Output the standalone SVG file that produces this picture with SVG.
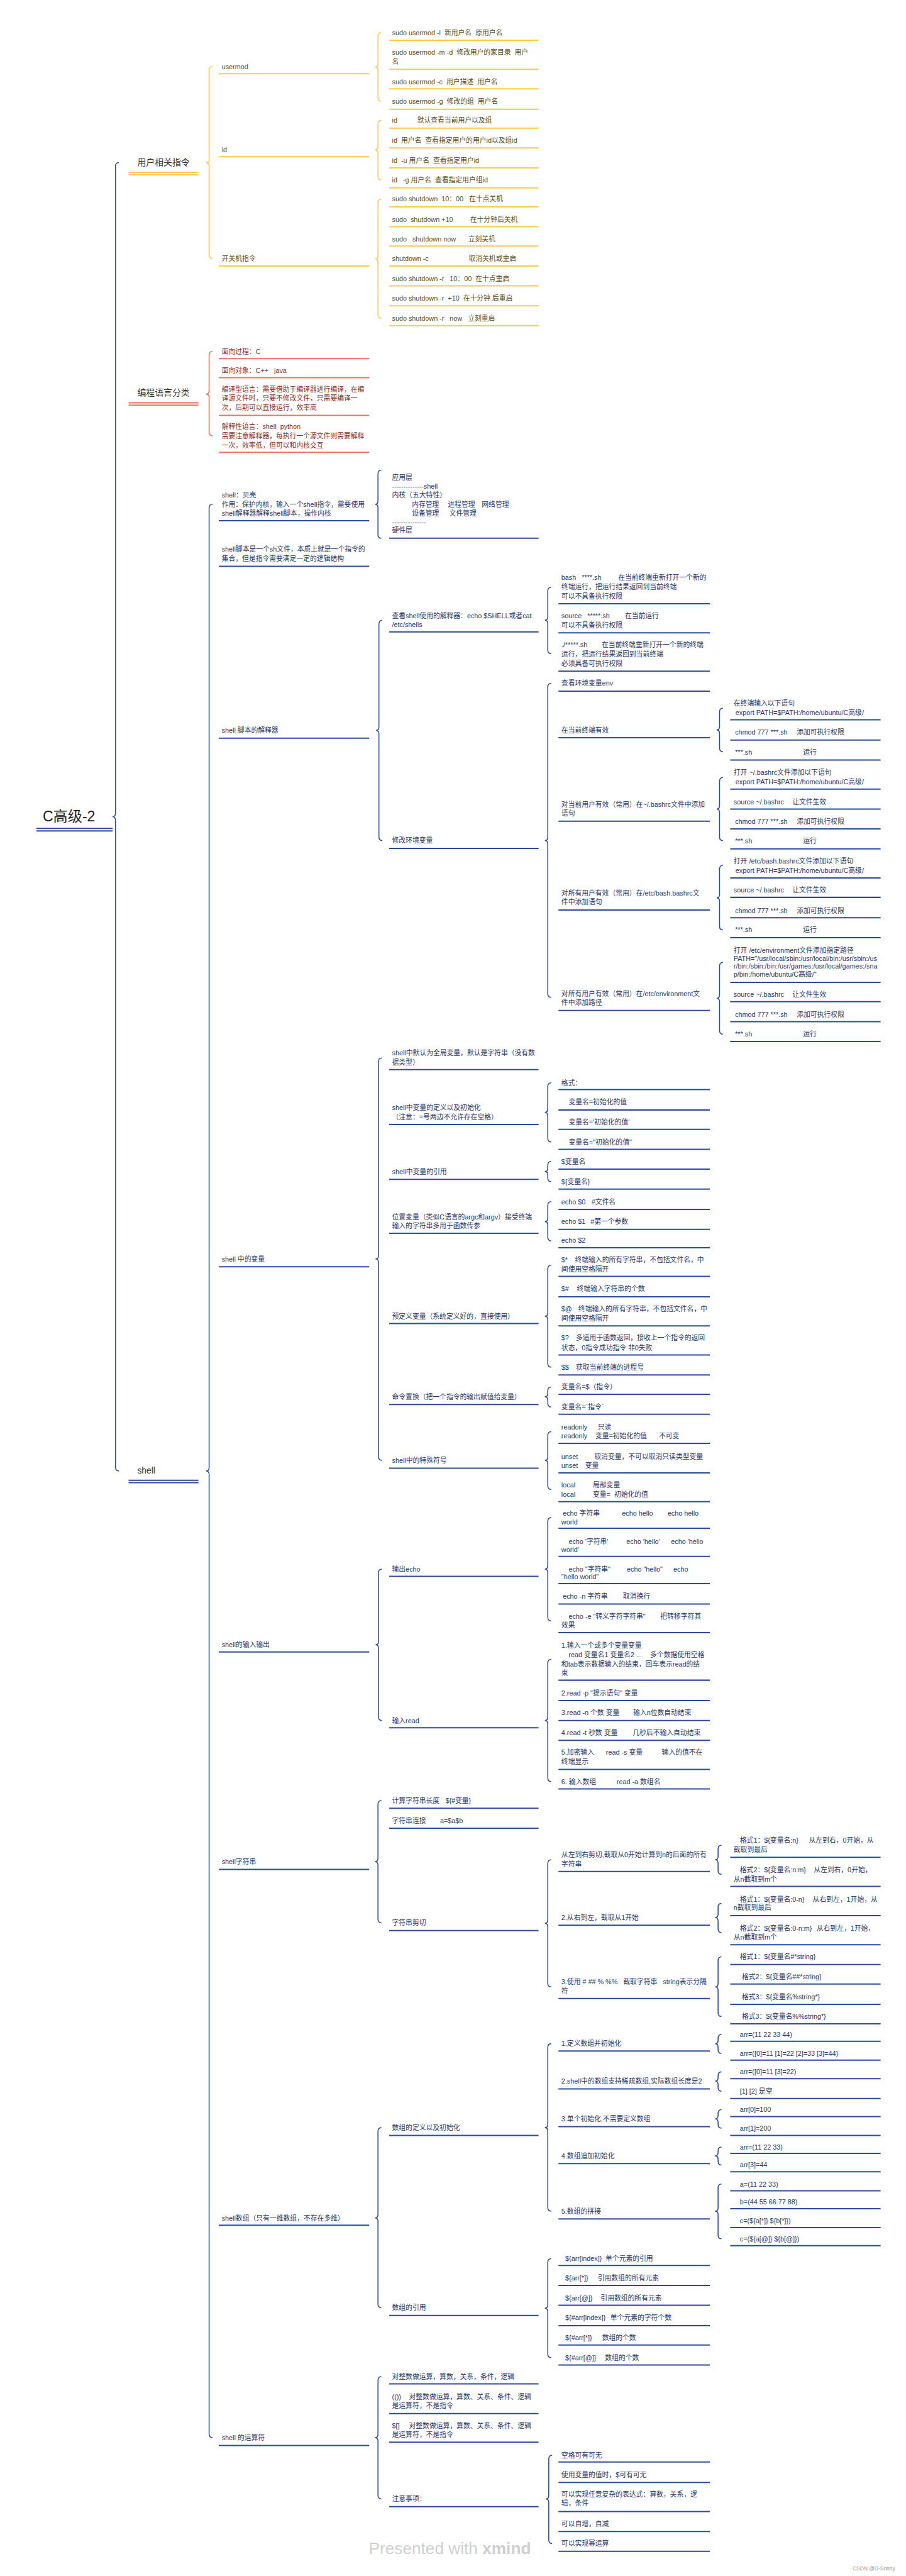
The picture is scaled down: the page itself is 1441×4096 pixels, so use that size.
<svg xmlns="http://www.w3.org/2000/svg" width="1441" height="4096" viewBox="0 0 1441 4096">
<style>
text{font-family:"Liberation Sans","Noto Sans CJK SC",sans-serif;font-size:14px;white-space:pre}
.ty{fill:#5b4b17}.tr{fill:#8b2e1f}.tb{fill:#26356a}
.l1{font-size:18px;fill:#333}
.root{font-size:30px;fill:#222}
.uy,.ur,.ub{fill:none;stroke-width:2.6}
.uy{stroke:#FFC94A}.ur{stroke:#E9735F}.ub{stroke:#2E4B9A}
.by,.br,.bb{fill:none;stroke-width:2}
.by{stroke:#FFC94A}.br{stroke:#E9735F}.bb{stroke:#2E4B9A}
.wm{font-size:34px;fill:#cfcfcf}
.cs{font-size:11px;fill:#999}
</style>
<rect width="1441" height="4096" fill="#fff"/>
<g transform="scale(0.7717)">
<g id="connectors">
<path class="bb" d="M245,335 Q238,335 238,343 V1676 Q238,1683 232,1683 Q238,1683 238,1690 V3023 Q238,3031 245,3031"/>
<path class="by" d="M438,137 Q431,137 431,145 V328 Q431,335 425,335 Q431,335 431,342 V525 Q431,533 438,533"/>
<path class="by" d="M786,67 Q779,67 779,75 V131 Q779,138 773,138 Q779,138 779,145 V201 Q779,209 786,209"/>
<path class="by" d="M786,248 Q779,248 779,256 V302 Q779,309 773,309 Q779,309 779,316 V363 Q779,371 786,371"/>
<path class="by" d="M786,410 Q779,410 779,418 V526 Q779,533 773,533 Q779,533 779,540 V648 Q779,656 786,656"/>
<path class="br" d="M438,724 Q431,724 431,732 V805 Q431,812 425,812 Q431,812 431,819 V890 Q431,898 438,898"/>
<path class="bb" d="M438,1039 Q431,1039 431,1047 V3024 Q431,3031 425,3031 Q431,3031 431,3038 V5015 Q431,5023 438,5023"/>
<path class="bb" d="M786,969 Q779,969 779,977 V1032 Q779,1039 773,1039 Q779,1039 779,1046 V1101 Q779,1109 786,1109"/>
<path class="bb" d="M788,1278 Q781,1278 781,1286 V1498 Q781,1505 775,1505 Q781,1505 781,1512 V1724 Q781,1732 788,1732"/>
<path class="bb" d="M1136,1210 Q1129,1210 1129,1218 V1271 Q1129,1278 1123,1278 Q1129,1278 1129,1285 V1339 Q1129,1347 1136,1347"/>
<path class="bb" d="M1136,1408 Q1129,1408 1129,1416 V1725 Q1129,1732 1123,1732 Q1129,1732 1129,1739 V2047 Q1129,2055 1136,2055"/>
<path class="bb" d="M1490,1459 Q1483,1459 1483,1467 V1497 Q1483,1504 1477,1504 Q1483,1504 1483,1511 V1541 Q1483,1549 1490,1549"/>
<path class="bb" d="M1490,1602 Q1483,1602 1483,1610 V1660 Q1483,1667 1477,1667 Q1483,1667 1483,1674 V1724 Q1483,1732 1490,1732"/>
<path class="bb" d="M1490,1783 Q1483,1783 1483,1791 V1843 Q1483,1850 1477,1850 Q1483,1850 1483,1857 V1908 Q1483,1916 1490,1916"/>
<path class="bb" d="M1490,1983 Q1483,1983 1483,1991 V2050 Q1483,2057 1477,2057 Q1483,2057 1483,2064 V2123 Q1483,2131 1490,2131"/>
<path class="bb" d="M787,2180 Q780,2180 780,2188 V2587 Q780,2594 774,2594 Q780,2594 780,2601 V3001 Q780,3009 787,3009"/>
<path class="bb" d="M1136,2231 Q1129,2231 1129,2239 V2285 Q1129,2292 1123,2292 Q1129,2292 1129,2299 V2345 Q1129,2353 1136,2353"/>
<path class="bb" d="M1136,2393 Q1129,2393 1129,2401 V2407 Q1129,2414 1123,2414 Q1129,2414 1129,2421 V2427 Q1129,2435 1136,2435"/>
<path class="bb" d="M1136,2476 Q1129,2476 1129,2484 V2510 Q1129,2517 1123,2517 Q1129,2517 1129,2524 V2549 Q1129,2557 1136,2557"/>
<path class="bb" d="M1136,2607 Q1129,2607 1129,2615 V2705 Q1129,2712 1123,2712 Q1129,2712 1129,2719 V2809 Q1129,2817 1136,2817"/>
<path class="bb" d="M1136,2858 Q1129,2858 1129,2866 V2871 Q1129,2878 1123,2878 Q1129,2878 1129,2885 V2891 Q1129,2899 1136,2899"/>
<path class="bb" d="M1136,2950 Q1129,2950 1129,2958 V3002 Q1129,3009 1123,3009 Q1129,3009 1129,3016 V3061 Q1129,3069 1136,3069"/>
<path class="bb" d="M787,3233 Q780,3233 780,3241 V3382 Q780,3389 774,3389 Q780,3389 780,3396 V3537 Q780,3545 787,3545"/>
<path class="bb" d="M1136,3127 Q1129,3127 1129,3135 V3226 Q1129,3233 1123,3233 Q1129,3233 1129,3240 V3332 Q1129,3340 1136,3340"/>
<path class="bb" d="M1136,3419 Q1129,3419 1129,3427 V3538 Q1129,3545 1123,3545 Q1129,3545 1129,3552 V3663 Q1129,3671 1136,3671"/>
<path class="bb" d="M786,3710 Q779,3710 779,3718 V3829 Q779,3836 773,3836 Q779,3836 779,3843 V3954 Q779,3962 786,3962"/>
<path class="bb" d="M1136,3832 Q1129,3832 1129,3840 V3956 Q1129,3963 1123,3963 Q1129,3963 1129,3970 V4086 Q1129,4094 1136,4094"/>
<path class="bb" d="M1487,3802 Q1480,3802 1480,3810 V3825 Q1480,3832 1474,3832 Q1480,3832 1480,3839 V3854 Q1480,3862 1487,3862"/>
<path class="bb" d="M1487,3922 Q1480,3922 1480,3930 V3944 Q1480,3951 1474,3951 Q1480,3951 1480,3958 V3974 Q1480,3982 1487,3982"/>
<path class="bb" d="M1487,4032 Q1480,4032 1480,4040 V4087 Q1480,4094 1474,4094 Q1480,4094 1480,4101 V4147 Q1480,4155 1487,4155"/>
<path class="bb" d="M786,4384 Q779,4384 779,4392 V4563 Q779,4570 773,4570 Q779,4570 779,4577 V4747 Q779,4755 786,4755"/>
<path class="bb" d="M1136,4211 Q1129,4211 1129,4219 V4377 Q1129,4384 1123,4384 Q1129,4384 1129,4391 V4548 Q1129,4556 1136,4556"/>
<path class="bb" d="M1487,4192 Q1480,4192 1480,4200 V4204 Q1480,4211 1474,4211 Q1480,4211 1480,4218 V4223 Q1480,4231 1487,4231"/>
<path class="bb" d="M1487,4269 Q1480,4269 1480,4277 V4281 Q1480,4288 1474,4288 Q1480,4288 1480,4295 V4301 Q1480,4309 1487,4309"/>
<path class="bb" d="M1487,4347 Q1480,4347 1480,4355 V4359 Q1480,4366 1474,4366 Q1480,4366 1480,4373 V4377 Q1480,4385 1487,4385"/>
<path class="bb" d="M1487,4424 Q1480,4424 1480,4432 V4435 Q1480,4442 1474,4442 Q1480,4442 1480,4449 V4453 Q1480,4461 1487,4461"/>
<path class="bb" d="M1487,4500 Q1480,4500 1480,4508 V4549 Q1480,4556 1474,4556 Q1480,4556 1480,4563 V4605 Q1480,4613 1487,4613"/>
<path class="bb" d="M1136,4654 Q1129,4654 1129,4662 V4749 Q1129,4756 1123,4756 Q1129,4756 1129,4763 V4850 Q1129,4858 1136,4858"/>
<path class="bb" d="M786,4897 Q779,4897 779,4905 V5016 Q779,5023 773,5023 Q779,5023 779,5030 V5141 Q779,5149 786,5149"/>
<path class="bb" d="M1138,5059 Q1131,5059 1131,5067 V5142 Q1131,5149 1125,5149 Q1131,5149 1131,5156 V5233 Q1131,5241 1138,5241"/>
</g>

<g id="root"><text class="root" x="88" y="1692">C高级-2</text><path class="ub" d="M75 1707H232M75 1712H232"/></g>

<g id="n-user"><text class="l1" x="283" y="341">用户相关指令</text><path class="uy" d="M265 355H409M265 360H409"/></g>
<g id="n-usermod"><text class="ty" x="457" y="142">usermod</text><path class="uy" d="M451 152H761"/></g>
<g id="n-u1"><text class="ty" x="808" y="72">sudo usermod -l  新用户名  原用户名</text><path class="uy" d="M802 83H1110"/></g>
<g id="n-u2"><text class="ty" x="808" y="113">sudo usermod -m -d  修改用户的家目录  用户<tspan x="808" y="132">名</tspan></text><path class="uy" d="M802 143H1110"/></g>
<g id="n-u3"><text class="ty" x="808" y="173">sudo usermod -c  用户描述  用户名</text><path class="uy" d="M802 183H1110"/></g>
<g id="n-u4"><text class="ty" x="808" y="214">sudo usermod -g  修改的组  用户名</text><path class="uy" d="M802 225H1110"/></g>
<g id="n-id"><text class="ty" x="457" y="314">id</text><path class="uy" d="M451 323H761"/></g>
<g id="n-i1"><text class="ty" x="808" y="253">id<tspan x="860">默认查看当前用户以及组</tspan></text><path class="uy" d="M802 264H1110"/></g>
<g id="n-i2"><text class="ty" x="808" y="294">id  用户名  查看指定用户的用户id以及组id</text><path class="uy" d="M802 305H1110"/></g>
<g id="n-i3"><text class="ty" x="808" y="335">id  -u 用户名  查看指定用户id</text><path class="uy" d="M802 346H1110"/></g>
<g id="n-i4"><text class="ty" x="808" y="376">id   -g 用户名  查看指定用户组id</text><path class="uy" d="M802 387H1110"/></g>
<g id="n-power"><text class="ty" x="457" y="538">开关机指令</text><path class="uy" d="M451 548H761"/></g>
<g id="n-p1"><text class="ty" x="808" y="415">sudo shutdown  10：00   在十点关机</text><path class="uy" d="M802 426H1110"/></g>
<g id="n-p2"><text class="ty" x="808" y="457">sudo  shutdown +10<tspan x="969">在十分钟后关机</tspan></text><path class="uy" d="M802 467H1110"/></g>
<g id="n-p3"><text class="ty" x="808" y="498">sudo   shutdown now<tspan x="965">立刻关机</tspan></text><path class="uy" d="M802 507H1110"/></g>
<g id="n-p4"><text class="ty" x="808" y="538">shutdown -c<tspan x="966">取消关机或重启</tspan></text><path class="uy" d="M802 548H1110"/></g>
<g id="n-p5"><text class="ty" x="808" y="579">sudo shutdown -r   10：00  在十点重启</text><path class="uy" d="M802 589H1110"/></g>
<g id="n-p6"><text class="ty" x="808" y="620">sudo shutdown -r  +10  在十分钟 后重启</text><path class="uy" d="M802 630H1110"/></g>
<g id="n-p7"><text class="ty" x="808" y="661">sudo shutdown -r   now   立刻重启</text><path class="uy" d="M802 671H1110"/></g>

<g id="n-lang"><text class="l1" x="283" y="815">编程语言分类</text><path class="ur" d="M265 830H409M265 835H409"/></g>
<g id="n-l1"><text class="tr" x="457" y="729">面向过程：C</text><path class="ur" d="M451 739H761"/></g>
<g id="n-l2"><text class="tr" x="457" y="768">面向对象：C++   java</text><path class="ur" d="M451 778H761"/></g>
<g id="n-l3"><text class="tr" x="457" y="807">编译型语言：需要借助于编译器进行编译，在编<tspan x="457" y="826">译源文件时，只要不修改文件，只需要编译一</tspan><tspan x="457" y="845">次，后期可以直接运行，效率高</tspan></text><path class="ur" d="M451 856H761"/></g>
<g id="n-l4"><text class="tr" x="457" y="884">解释性语言：shell  python<tspan x="457" y="903">需要注意解释器，每执行一个源文件则需要解释</tspan><tspan x="457" y="922">一次，效率低，但可以和内核交互</tspan></text><path class="ur" d="M451 932H761"/></g>

<g id="n-shell"><text class="l1" x="283" y="3036">shell</text><path class="ub" d="M265 3050H409M265 3055H409"/></g>
<g id="n-s1"><text class="tb" x="457" y="1025">shell：贝壳<tspan x="457" y="1044">作用：保护内核，输入一个shell指令，需要使用</tspan><tspan x="457" y="1063">shell解释器解释shell脚本，操作内核</tspan></text><path class="ub" d="M451 1073H761"/></g>
<g id="n-s1a"><text class="tb" x="808" y="989">应用层<tspan x="808" y="1007">--------------shell</tspan><tspan x="808" y="1025">内核（五大特性）</tspan><tspan x="849" y="1044">内存管理</tspan><tspan x="923" y="1044">进程管理</tspan><tspan x="993" y="1044">网络管理</tspan><tspan x="849" y="1063">设备管理</tspan><tspan x="926" y="1063">文件管理</tspan><tspan x="808" y="1081">---------------</tspan><tspan x="808" y="1098">硬件层</tspan></text><path class="ub" d="M802 1109H1110"/></g>
<g id="n-s2"><text class="tb" x="457" y="1137">shell脚本是一个sh文件，本质上就是一个指令的<tspan x="457" y="1156">集合，但是指令需要满足一定的逻辑结构</tspan></text><path class="ub" d="M451 1167H761"/></g>

<g id="n-s3"><text class="tb" x="457" y="1510">shell 脚本的解释器</text><path class="ub" d="M451 1521H761"/></g>
<g id="n-s3a"><text class="tb" x="808" y="1274">查看shell使用的解释器：echo $SHELL或者cat<tspan x="808" y="1292">/etc/shells</tspan></text><path class="ub" d="M802 1302H1110"/></g>
<g id="n-s3a1"><text class="tb" x="1157" y="1195">bash   ****.sh<tspan x="1274">在当前终端重新打开一个新的</tspan><tspan x="1157" y="1214">终端运行，把运行结果返回到当前终端</tspan><tspan x="1157" y="1233">可以不具备执行权限</tspan></text><path class="ub" d="M1151 1244H1463"/></g>
<g id="n-s3a2"><text class="tb" x="1157" y="1274">source   *****.sh<tspan x="1288">在当前运行</tspan><tspan x="1157" y="1293">可以不具备执行权限</tspan></text><path class="ub" d="M1151 1304H1463"/></g>
<g id="n-s3a3"><text class="tb" x="1157" y="1334">./*****.sh<tspan x="1240">在当前终端重新打开一个新的终端</tspan><tspan x="1157" y="1353">运行，把运行结果返回到当前终端</tspan><tspan x="1157" y="1372">必须具备可执行权限</tspan></text><path class="ub" d="M1151 1383H1463"/></g>
<g id="n-s3b"><text class="tb" x="808" y="1737">修改环境变量</text><path class="ub" d="M802 1748H1110"/></g>
<g id="n-s3b1"><text class="tb" x="1157" y="1413">查看环境变量env</text><path class="ub" d="M1151 1424H1463"/></g>
<g id="n-s3b2"><text class="tb" x="1157" y="1510">在当前终端有效</text><path class="ub" d="M1151 1520H1463"/></g>
<g id="n-e1"><text class="tb" x="1512" y="1454">在终端输入以下语句<tspan x="1512" y="1473"> export PATH=$PATH:/home/ubuntu/C高级/</tspan></text><path class="ub" d="M1505 1483H1815"/></g>
<g id="n-e2"><text class="tb" x="1515" y="1514">chmod 777 ***.sh<tspan x="1642">添加可执行权限</tspan></text><path class="ub" d="M1505 1525H1815"/></g>
<g id="n-e3"><text class="tb" x="1515" y="1555">***.sh<tspan x="1655">运行</tspan></text><path class="ub" d="M1505 1566H1815"/></g>
<g id="n-s3b3"><text class="tb" x="1157" y="1662">对当前用户有效（常用）在~/.bashrc文件中添加<tspan x="1157" y="1681">语句</tspan></text><path class="ub" d="M1151 1692H1463"/></g>
<g id="n-e4"><text class="tb" x="1512" y="1597">打开 ~/.bashrc文件添加以下语句<tspan x="1512" y="1616"> export PATH=$PATH:/home/ubuntu/C高级/</tspan></text><path class="ub" d="M1505 1626H1815"/></g>
<g id="n-e5"><text class="tb" x="1512" y="1657">source ~/.bashrc<tspan x="1633">让文件生效</tspan></text><path class="ub" d="M1505 1667H1815"/></g>
<g id="n-e6"><text class="tb" x="1515" y="1698">chmod 777 ***.sh<tspan x="1642">添加可执行权限</tspan></text><path class="ub" d="M1505 1708H1815"/></g>
<g id="n-e7"><text class="tb" x="1515" y="1738">***.sh<tspan x="1655">运行</tspan></text><path class="ub" d="M1505 1749H1815"/></g>
<g id="n-s3b4"><text class="tb" x="1157" y="1845">对所有用户有效（常用）在/etc/bash.bashrc文<tspan x="1157" y="1864">件中添加语句</tspan></text><path class="ub" d="M1151 1875H1463"/></g>
<g id="n-e8"><text class="tb" x="1512" y="1779">打开 /etc/bash.bashrc文件添加以下语句<tspan x="1512" y="1798"> export PATH=$PATH:/home/ubuntu/C高级/</tspan></text><path class="ub" d="M1505 1809H1815"/></g>
<g id="n-e9"><text class="tb" x="1512" y="1839">source ~/.bashrc<tspan x="1633">让文件生效</tspan></text><path class="ub" d="M1505 1849H1815"/></g>
<g id="n-e10"><text class="tb" x="1515" y="1881">chmod 777 ***.sh<tspan x="1642">添加可执行权限</tspan></text><path class="ub" d="M1505 1891H1815"/></g>
<g id="n-e11"><text class="tb" x="1515" y="1921">***.sh<tspan x="1655">运行</tspan></text><path class="ub" d="M1505 1932H1815"/></g>
<g id="n-s3b5"><text class="tb" x="1157" y="2052">对所有用户有效（常用）在/etc/environment文<tspan x="1157" y="2071">件中添加路径</tspan></text><path class="ub" d="M1151 2082H1463"/></g>
<g id="n-e12"><text class="tb" x="1512" y="1963">打开 /etc/environment文件添加指定路径<tspan x="1512" y="1980">PATH="/usr/local/sbin:/usr/local/bin:/usr/sbin:/us</tspan><tspan x="1512" y="1996">r/bin:/sbin:/bin:/usr/games:/usr/local/games:/sna</tspan><tspan x="1512" y="2012">p/bin:/home/ubuntu/C高级/"</tspan></text><path class="ub" d="M1505 2024H1815"/></g>
<g id="n-e13"><text class="tb" x="1512" y="2054">source ~/.bashrc<tspan x="1633">让文件生效</tspan></text><path class="ub" d="M1505 2064H1815"/></g>
<g id="n-e14"><text class="tb" x="1515" y="2095">chmod 777 ***.sh<tspan x="1642">添加可执行权限</tspan></text><path class="ub" d="M1505 2105H1815"/></g>
<g id="n-e15"><text class="tb" x="1515" y="2136">***.sh<tspan x="1655">运行</tspan></text><path class="ub" d="M1505 2146H1815"/></g>

<g id="n-s4"><text class="tb" x="457" y="2599">shell 中的变量</text><path class="ub" d="M451 2610H761"/></g>
<g id="n-v1"><text class="tb" x="808" y="2175">shell中默认为全局变量，默认是字符串（没有数<tspan x="808" y="2194">据类型）</tspan></text><path class="ub" d="M802 2204H1110"/></g>
<g id="n-v2"><text class="tb" x="808" y="2287">shell中变量的定义以及初始化<tspan x="808" y="2306">（注意：=号两边不允许存在空格）</tspan></text><path class="ub" d="M802 2317H1110"/></g>
<g id="n-v2a"><text class="tb" x="1157" y="2236">格式：</text><path class="ub" d="M1151 2245H1463"/></g>
<g id="n-v2b"><text class="tb" x="1172" y="2276">变量名=初始化的值</text><path class="ub" d="M1151 2287H1463"/></g>
<g id="n-v2c"><text class="tb" x="1172" y="2317">变量名='初始化的值'</text><path class="ub" d="M1151 2327H1463"/></g>
<g id="n-v2d"><text class="tb" x="1172" y="2358">变量名="初始化的值"</text><path class="ub" d="M1151 2368H1463"/></g>
<g id="n-v3"><text class="tb" x="808" y="2419">shell中变量的引用</text><path class="ub" d="M802 2430H1110"/></g>
<g id="n-v3a"><text class="tb" x="1157" y="2398">$变量名</text><path class="ub" d="M1151 2409H1463"/></g>
<g id="n-v3b"><text class="tb" x="1157" y="2440">${变量名}</text><path class="ub" d="M1151 2450H1463"/></g>
<g id="n-v4"><text class="tb" x="808" y="2512">位置变量（类似C语言的argc和argv）接受终端<tspan x="808" y="2531">输入的字符串多用于函数传参</tspan></text><path class="ub" d="M802 2541H1110"/></g>
<g id="n-v4a"><text class="tb" x="1157" y="2482">echo $0<tspan x="1219">#文件名</tspan></text><path class="ub" d="M1151 2492H1463"/></g>
<g id="n-v4b"><text class="tb" x="1157" y="2522">echo $1<tspan x="1217">#第一个参数</tspan></text><path class="ub" d="M1151 2533H1463"/></g>
<g id="n-v4c"><text class="tb" x="1157" y="2561">echo $2</text><path class="ub" d="M1151 2571H1463"/></g>
<g id="n-v5"><text class="tb" x="808" y="2717">预定义变量（系统定义好的，直接使用）</text><path class="ub" d="M802 2727H1110"/></g>
<g id="n-v5a"><text class="tb" x="1157" y="2601">$*<tspan x="1185">终端输入的所有字符串，不包括文件名，中</tspan><tspan x="1157" y="2620">间使用空格隔开</tspan></text><path class="ub" d="M1151 2630H1463"/></g>
<g id="n-v5b"><text class="tb" x="1157" y="2661">$#<tspan x="1189">终端输入字符串的个数</tspan></text><path class="ub" d="M1151 2672H1463"/></g>
<g id="n-v5c"><text class="tb" x="1157" y="2702">$@<tspan x="1192">终端输入的所有字符串，不包括文件名，中</tspan><tspan x="1157" y="2721">间使用空格隔开</tspan></text><path class="ub" d="M1151 2732H1463"/></g>
<g id="n-v5d"><text class="tb" x="1157" y="2762">$?<tspan x="1187">多适用于函数返回，接收上一个指令的返回</tspan><tspan x="1157" y="2782">状态，0指令成功指令 非0失败</tspan></text><path class="ub" d="M1151 2792H1463"/></g>
<g id="n-v5e"><text class="tb" x="1157" y="2822">$$<tspan x="1187">获取当前终端的进程号</tspan></text><path class="ub" d="M1151 2833H1463"/></g>
<g id="n-v6"><text class="tb" x="808" y="2883">命令置换（把一个指令的输出赋值给变量）</text><path class="ub" d="M802 2894H1110"/></g>
<g id="n-v6a"><text class="tb" x="1157" y="2863">变量名=$（指令）</text><path class="ub" d="M1151 2873H1463"/></g>
<g id="n-v6b"><text class="tb" x="1157" y="2904">变量名=`指令`</text><path class="ub" d="M1151 2914H1463"/></g>
<g id="n-v7"><text class="tb" x="808" y="3014">shell中的特殊符号</text><path class="ub" d="M802 3025H1110"/></g>
<g id="n-v7a"><text class="tb" x="1157" y="2945">readonly<tspan x="1232">只读</tspan><tspan x="1157" y="2964">readonly</tspan><tspan x="1227" y="2964">变量=初始化的值</tspan><tspan x="1358" y="2964">不可变</tspan></text><path class="ub" d="M1151 2974H1463"/></g>
<g id="n-v7b"><text class="tb" x="1157" y="3006">unset<tspan x="1225">取消变量，不可以取消只读类型变量</tspan><tspan x="1157" y="3025">unset</tspan><tspan x="1206" y="3025">变量</tspan></text><path class="ub" d="M1151 3035H1463"/></g>
<g id="n-v7c"><text class="tb" x="1157" y="3065">local<tspan x="1222">局部变量</tspan><tspan x="1157" y="3084">local</tspan><tspan x="1222" y="3084">变量=  初始化的值</tspan></text><path class="ub" d="M1151 3094H1463"/></g>

<g id="n-s5"><text class="tb" x="457" y="3394">shell的输入输出</text><path class="ub" d="M451 3404H761"/></g>
<g id="n-o1"><text class="tb" x="808" y="3238">输出echo</text><path class="ub" d="M802 3248H1110"/></g>
<g id="n-o1a"><text class="tb" x="1160" y="3123">echo 字符串<tspan x="1282">echo hello</tspan><tspan x="1376">echo hello</tspan><tspan x="1157" y="3141">world</tspan></text><path class="ub" d="M1151 3149H1463"/></g>
<g id="n-o1b"><text class="tb" x="1172" y="3181">echo '字符串'<tspan x="1291">echo 'hello'</tspan><tspan x="1383">echo 'hello</tspan><tspan x="1157" y="3198">world'</tspan></text><path class="ub" d="M1151 3207H1463"/></g>
<g id="n-o1c"><text class="tb" x="1172" y="3238">echo "字符串"<tspan x="1292">echo "hello"</tspan><tspan x="1388">echo</tspan><tspan x="1157" y="3254">"hello world"</tspan></text><path class="ub" d="M1151 3263H1463"/></g>
<g id="n-o1d"><text class="tb" x="1160" y="3294">echo -n 字符串<tspan x="1284">取消换行</tspan></text><path class="ub" d="M1151 3305H1463"/></g>
<g id="n-o1e"><text class="tb" x="1172" y="3336">echo -e "转义字符字符串"<tspan x="1361">把转移字符其</tspan><tspan x="1157" y="3354">效果</tspan></text><path class="ub" d="M1151 3364H1463"/></g>
<g id="n-o2"><text class="tb" x="808" y="3550">输入read</text><path class="ub" d="M802 3560H1110"/></g>
<g id="n-o2a"><text class="tb" x="1157" y="3395">1.输入一个或多个变量变量<tspan x="1172" y="3415">read 变量名1 变量名2 ...</tspan><tspan x="1340" y="3415">多个数据使用空格</tspan><tspan x="1157" y="3434">和tab表示数据输入的结束，回车表示read的结</tspan><tspan x="1157" y="3452">束</tspan></text><path class="ub" d="M1151 3462H1463"/></g>
<g id="n-o2b"><text class="tb" x="1157" y="3493">2.read -p "提示语句" 变量</text><path class="ub" d="M1151 3504H1463"/></g>
<g id="n-o2c"><text class="tb" x="1157" y="3534">3.read -n 个数 变量<tspan x="1305">输入n位数自动结束</tspan></text><path class="ub" d="M1151 3545H1463"/></g>
<g id="n-o2d"><text class="tb" x="1157" y="3575">4.read -t 秒数 变量<tspan x="1304">几秒后不输入自动结束</tspan></text><path class="ub" d="M1151 3586H1463"/></g>
<g id="n-o2e"><text class="tb" x="1157" y="3616">5.加密输入<tspan x="1249">read -s 变量</tspan><tspan x="1364">输入的值不在</tspan><tspan x="1157" y="3635">终端显示</tspan></text><path class="ub" d="M1151 3646H1463"/></g>
<g id="n-o2f"><text class="tb" x="1157" y="3676">6. 输入数组<tspan x="1271">read -a 数组名</tspan></text><path class="ub" d="M1151 3686H1463"/></g>

<g id="n-s6"><text class="tb" x="457" y="3841">shell字符串</text><path class="ub" d="M451 3852H761"/></g>
<g id="n-t1"><text class="tb" x="808" y="3715">计算字符串长度<tspan x="918">${#变量}</tspan></text><path class="ub" d="M802 3726H1110"/></g>
<g id="n-t2"><text class="tb" x="808" y="3756">字符串连接<tspan x="907">a=$a$b</tspan></text><path class="ub" d="M802 3767H1110"/></g>
<g id="n-t3"><text class="tb" x="808" y="3967">字符串剪切</text><path class="ub" d="M802 3978H1110"/></g>
<g id="n-t3a"><text class="tb" x="1157" y="3827">从左到右剪切,截取从0开始计算到n的后面的所有<tspan x="1157" y="3846">字符串</tspan></text><path class="ub" d="M1151 3856H1463"/></g>
<g id="n-t3a1"><text class="tb" x="1525" y="3797">格式1：${变量名:n}<tspan x="1667">从左到右，0开始，从</tspan><tspan x="1512" y="3816">截取到最后</tspan></text><path class="ub" d="M1505 3827H1815"/></g>
<g id="n-t3a2"><text class="tb" x="1525" y="3858">格式2：${变量名:n:m}<tspan x="1677">从左到右，0开始，</tspan><tspan x="1512" y="3877">从n截取到m个</tspan></text><path class="ub" d="M1505 3887H1815"/></g>
<g id="n-t3b"><text class="tb" x="1157" y="3956">2.从右到左，截取从1开始</text><path class="ub" d="M1151 3967H1463"/></g>
<g id="n-t3b1"><text class="tb" x="1525" y="3918">格式1：${变量名:0-n}<tspan x="1675">从右到左，1开始，从</tspan><tspan x="1512" y="3936">n截取到最后</tspan></text><path class="ub" d="M1505 3947H1815"/></g>
<g id="n-t3b2"><text class="tb" x="1525" y="3978">格式2：${变量名:0-n:m}<tspan x="1683">从右到左，1开始，</tspan><tspan x="1512" y="3997">从n截取到m个</tspan></text><path class="ub" d="M1505 4007H1815"/></g>
<g id="n-t3c"><text class="tb" x="1157" y="4089">3.使用 # ## % %%   截取字符串   string表示分隔<tspan x="1157" y="4108">符</tspan></text><path class="ub" d="M1151 4118H1463"/></g>
<g id="n-t3c1"><text class="tb" x="1525" y="4037">格式1：${变量名#*string}</text><path class="ub" d="M1505 4048H1815"/></g>
<g id="n-t3c2"><text class="tb" x="1529" y="4078">格式2：${变量名##*string}</text><path class="ub" d="M1505 4088H1815"/></g>
<g id="n-t3c3"><text class="tb" x="1529" y="4120">格式3：${变量名%string*}</text><path class="ub" d="M1505 4130H1815"/></g>
<g id="n-t3c4"><text class="tb" x="1529" y="4160">格式3：${变量名%%string*}</text><path class="ub" d="M1505 4170H1815"/></g>

<g id="n-s7"><text class="tb" x="457" y="4575">shell数组（只有一维数组，不存在多维）</text><path class="ub" d="M451 4585H761"/></g>
<g id="n-a1"><text class="tb" x="808" y="4389">数组的定义以及初始化</text><path class="ub" d="M802 4400H1110"/></g>
<g id="n-a1a"><text class="tb" x="1157" y="4216">1.定义数组并初始化</text><path class="ub" d="M1151 4226H1463"/></g>
<g id="n-a1a1"><text class="tb" x="1525" y="4197">arr=(11 22 33 44)</text><path class="ub" d="M1505 4206H1815"/></g>
<g id="n-a1a2"><text class="tb" x="1525" y="4236">arr=([0]=11 [1]=22 [2]=33 [3]=44)</text><path class="ub" d="M1505 4245H1815"/></g>
<g id="n-a1b"><text class="tb" x="1157" y="4293">2.shell中的数组支持稀疏数组,实际数组长度是2</text><path class="ub" d="M1151 4304H1463"/></g>
<g id="n-a1b1"><text class="tb" x="1525" y="4274">arr=([0]=11 [3]=22)</text><path class="ub" d="M1505 4283H1815"/></g>
<g id="n-a1b2"><text class="tb" x="1525" y="4314">[1] [2] 是空</text><path class="ub" d="M1505 4324H1815"/></g>
<g id="n-a1c"><text class="tb" x="1157" y="4371">3.单个初始化,不需要定义数组</text><path class="ub" d="M1151 4382H1463"/></g>
<g id="n-a1c1"><text class="tb" x="1525" y="4352">arr[0]=100</text><path class="ub" d="M1505 4361H1815"/></g>
<g id="n-a1c2"><text class="tb" x="1525" y="4390">arr[1]=200</text><path class="ub" d="M1505 4400H1815"/></g>
<g id="n-a1d"><text class="tb" x="1157" y="4447">4.数组追加初始化</text><path class="ub" d="M1151 4458H1463"/></g>
<g id="n-a1d1"><text class="tb" x="1525" y="4429">arr=(11 22 33)</text><path class="ub" d="M1505 4437H1815"/></g>
<g id="n-a1d2"><text class="tb" x="1525" y="4466">arr[3]=44</text><path class="ub" d="M1505 4475H1815"/></g>
<g id="n-a1e"><text class="tb" x="1157" y="4561">5.数组的拼接</text><path class="ub" d="M1151 4572H1463"/></g>
<g id="n-a1e1"><text class="tb" x="1525" y="4505">a=(11 22 33)</text><path class="ub" d="M1505 4514H1815"/></g>
<g id="n-a1e2"><text class="tb" x="1525" y="4542">b=(44 55 66 77 88)</text><path class="ub" d="M1505 4551H1815"/></g>
<g id="n-a1e3"><text class="tb" x="1525" y="4581">c=(${a[*]} ${b[*]})</text><path class="ub" d="M1505 4590H1815"/></g>
<g id="n-a1e4"><text class="tb" x="1525" y="4618">c=(${a[@]} ${b[@]})</text><path class="ub" d="M1505 4627H1815"/></g>
<g id="n-a2"><text class="tb" x="808" y="4760">数组的引用</text><path class="ub" d="M802 4771H1110"/></g>
<g id="n-a2a"><text class="tb" x="1165" y="4658">${arr[index]}<tspan x="1248">单个元素的引用</tspan></text><path class="ub" d="M1151 4668H1463"/></g>
<g id="n-a2b"><text class="tb" x="1165" y="4699">${arr[*]}<tspan x="1232">引用数组的所有元素</tspan></text><path class="ub" d="M1151 4709H1463"/></g>
<g id="n-a2c"><text class="tb" x="1165" y="4740">${arr[@]}<tspan x="1238">引用数组的所有元素</tspan></text><path class="ub" d="M1151 4750H1463"/></g>
<g id="n-a2d"><text class="tb" x="1165" y="4781">${#arr[index]}<tspan x="1258">单个元素的字符个数</tspan></text><path class="ub" d="M1151 4792H1463"/></g>
<g id="n-a2e"><text class="tb" x="1165" y="4822">${#arr[*]}<tspan x="1241">数组的个数</tspan></text><path class="ub" d="M1151 4832H1463"/></g>
<g id="n-a2f"><text class="tb" x="1165" y="4863">${#arr[@]}<tspan x="1247">数组的个数</tspan></text><path class="ub" d="M1151 4873H1463"/></g>

<g id="n-s8"><text class="tb" x="457" y="5028">shell 的运算符</text><path class="ub" d="M451 5039H761"/></g>
<g id="n-c1"><text class="tb" x="808" y="4902">对整数做运算，算数，关系，条件，逻辑</text><path class="ub" d="M802 4912H1110"/></g>
<g id="n-c2"><text class="tb" x="808" y="4944">(())<tspan x="843">对整数做运算，算数、关系、条件、逻辑</tspan><tspan x="808" y="4962">是运算符，不是指令</tspan></text><path class="ub" d="M802 4973H1110"/></g>
<g id="n-c3"><text class="tb" x="808" y="5003">$[]<tspan x="843">对整数做运算，算数、关系、条件、逻辑</tspan><tspan x="808" y="5022">是运算符，不是指令</tspan></text><path class="ub" d="M802 5032H1110"/></g>
<g id="n-c4"><text class="tb" x="808" y="5154">注意事项：</text><path class="ub" d="M802 5165H1110"/></g>
<g id="n-c4a"><text class="tb" x="1157" y="5064">空格可有可无</text><path class="ub" d="M1151 5073H1463"/></g>
<g id="n-c4b"><text class="tb" x="1157" y="5104">使用变量的值时，$可有可无</text><path class="ub" d="M1151 5115H1463"/></g>
<g id="n-c4c"><text class="tb" x="1157" y="5145">可以实现任意复杂的表达式：算数，关系，逻<tspan x="1157" y="5163">辑，条件</tspan></text><path class="ub" d="M1151 5175H1463"/></g>
<g id="n-c4d"><text class="tb" x="1157" y="5206">可以自增，自减</text><path class="ub" d="M1151 5216H1463"/></g>
<g id="n-c4e"><text class="tb" x="1157" y="5246">可以实现幂运算</text><path class="ub" d="M1151 5257H1463"/></g>

<text class="wm" x="760" y="5262">Presented with <tspan font-weight="bold">xmind</tspan></text>
<text class="cs" x="1757" y="5296">CSDN @D-Sonny</text>
</g>
</svg>
